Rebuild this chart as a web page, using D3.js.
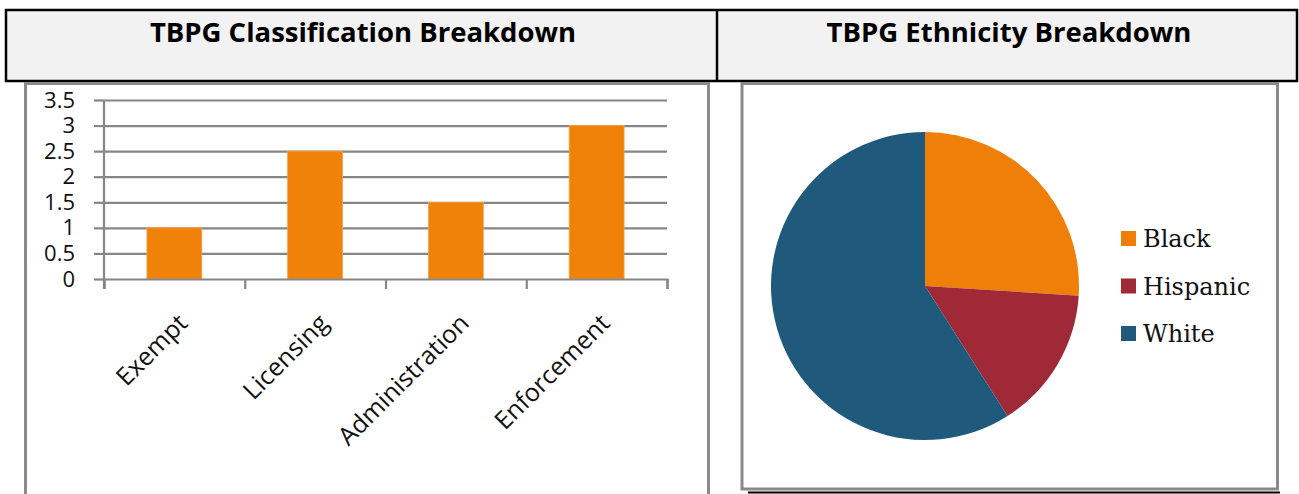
<!DOCTYPE html>
<html>
<head>
<meta charset="utf-8">
<script src="https://cdn.jsdelivr.net/npm/d3@7"></script>
<style>
  body { margin: 0; background: #fff; }
  svg { display: block; }
</style>
</head>
<body>
<svg width="1299" height="494"></svg>
<script>
// bar chart data
const categories = ['Exempt', 'Licensing', 'Administration', 'Enforcement']
const counts = [1, 2.5, 1.5, 3]
const yTicks = [0, 0.5, 1, 1.5, 2, 2.5, 3, 3.5]

// pie data (share of staff, %)
const groups = ['Black', 'Hispanic', 'White']
const shares = [26, 15, 59]
const groupColors = ['#F07F09', '#9F2936', '#1F5A7D']

const titles = ['TBPG Classification Breakdown', 'TBPG Ethnicity Breakdown']

const svg = d3.select('svg')
svg.append('rect').attr('width', 1299).attr('height', 494).attr('fill', '#fff')

// header row of the table
svg.append('rect')
  .attr('x', 6).attr('y', 10).attr('width', 1291).attr('height', 71)
  .attr('fill', '#f2f2f2').attr('stroke', '#000').attr('stroke-width', 2.5)
svg.append('line')
  .attr('x1', 717).attr('x2', 717).attr('y1', 10).attr('y2', 81)
  .attr('stroke', '#000').attr('stroke-width', 2.5)

svg.selectAll('text.title').data(titles).enter()
  .append('text')
  .attr('class', 'title')
  .attr('x', (d, i) => i === 0 ? 363 : 1009)
  .attr('y', 42)
  .attr('text-anchor', 'middle')
  .attr('font-family', 'Open Sans')
  .attr('font-weight', 700)
  .attr('font-size', 27.5)
  .attr('fill', '#000')
  .text(d => d)

// chart frames
svg.append('rect')
  .attr('x', 25.5).attr('y', 83.5).attr('width', 683).attr('height', 430)
  .attr('fill', 'none').attr('stroke', '#8a8a8a').attr('stroke-width', 3)
svg.append('rect')
  .attr('x', 742).attr('y', 83.5).attr('width', 535.5).attr('height', 405.5)
  .attr('fill', 'none').attr('stroke', '#8a8a8a').attr('stroke-width', 3)
svg.append('line')
  .attr('x1', 748).attr('x2', 1280).attr('y1', 492.5).attr('y2', 492.5)
  .attr('stroke', '#000').attr('stroke-width', 2)

// ---- bar chart ----
const x = d3.scaleBand().domain(categories).range([104, 667])
  .paddingInner(0.61).paddingOuter(0.305)
const xEdge = d3.scaleLinear().domain([0, categories.length]).range([104, 667])
const y = d3.scaleLinear().domain([0, 3.5]).range([279, 100])

const grid = svg.append('g').attr('transform', 'translate(104,0)')
  .call(d3.axisLeft(y).tickValues(yTicks.slice(1)).tickSize(-563).tickFormat(''))
grid.select('.domain').remove()
grid.selectAll('line').attr('stroke', '#868686').attr('stroke-width', 2.2)

svg.selectAll('rect.bar').data(counts).enter()
  .append('rect')
  .attr('class', 'bar')
  .attr('x', (d, i) => x(categories[i]))
  .attr('y', d => y(d))
  .attr('width', x.bandwidth())
  .attr('height', d => y(0) - y(d))
  .attr('fill', '#F0820A')
  .attr('stroke', '#f5a24a')
  .attr('stroke-width', 0.8)

const yAxisGroup = svg.append('g').attr('transform', 'translate(104,0)')
  .call(d3.axisLeft(y).tickValues(yTicks).tickSize(10).tickPadding(19).tickFormat(d3.format('')))
yAxisGroup.select('.domain').remove()
yAxisGroup.selectAll('line').attr('stroke', '#868686').attr('stroke-width', 2.2)
yAxisGroup.selectAll('text')
  .attr('font-family', 'Open Sans').attr('font-size', 22).attr('fill', '#111')
svg.append('line')
  .attr('x1', 104).attr('x2', 104).attr('y1', y(3.5)).attr('y2', 289)
  .attr('stroke', '#868686').attr('stroke-width', 2.2)

const xAxisGroup = svg.append('g').attr('transform', 'translate(0,279)')
  .call(d3.axisBottom(xEdge).ticks(categories.length).tickSize(10).tickFormat(''))
xAxisGroup.select('.domain').attr('stroke', '#868686').attr('stroke-width', 2.2)
xAxisGroup.selectAll('line').attr('stroke', '#868686').attr('stroke-width', 2.2)

svg.selectAll('text.cat').data(categories).enter()
  .append('text')
  .attr('class', 'cat')
  .attr('transform', d => `translate(${x(d) + x.bandwidth() / 2 + 2},312) rotate(-45)`)
  .attr('text-anchor', 'end')
  .attr('dy', '0.72em')
  .attr('font-family', 'Open Sans')
  .attr('font-size', 25)
  .attr('fill', '#111')
  .text(d => d)

// ---- pie chart ----
const pie = d3.pie().sort(null).value(d => d)
const arc = d3.arc().innerRadius(0).outerRadius(154)
const pieGroup = svg.append('g').attr('transform', 'translate(925,286)')
pieGroup.selectAll('path').data(pie(shares)).enter()
  .append('path')
  .attr('d', arc)
  .attr('fill', (d, i) => groupColors[i])

const legend = svg.selectAll('g.legend').data(groups).enter()
  .append('g')
  .attr('class', 'legend')
  .attr('transform', (d, i) => `translate(1121,${231 + i * 47.5})`)
legend.append('rect')
  .attr('width', 15).attr('height', 15)
  .attr('fill', (d, i) => groupColors[i])
legend.append('text')
  .attr('x', 22).attr('y', 16)
  .attr('font-family', 'DejaVu Serif')
  .attr('font-size', 24)
  .attr('fill', '#111')
  .text(d => d)
</script>
</body>
</html>
